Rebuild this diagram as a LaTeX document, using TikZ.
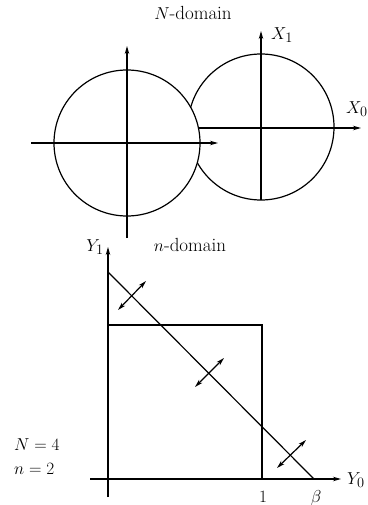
\documentclass[tikz,border=0pt]{standalone}
\usetikzlibrary{arrows.meta}
\begin{document}
\begin{tikzpicture}[x=1pt,y=-1pt,
  thinline/.style={line width=1.2pt},
  axis/.style={line width=1.2pt,-{Stealth[length=8pt,width=4.5pt]}},
  dbl/.style={line width=1.2pt,{Stealth[length=8pt,width=4.5pt]}-{Stealth[length=8pt,width=4.5pt]}},
  thick box/.style={line width=2.8pt},
  lbl/.style={inner sep=0pt,font=\fontsize{19}{22}\selectfont}]
\useasboundingbox (0,0) rectangle (367,505);
% top: N-domain
\node[lbl] (ntitle) at (193,13) {$N$-domain};
\node[circle,draw,thinline,minimum size=146pt,inner sep=0pt] (c2) at (261,127) {};
\node[circle,draw,thinline,fill=white,minimum size=146pt,inner sep=0pt] (c1) at (127,143) {};
\coordinate (l1) at (31,143); \coordinate (r1) at (218,143);
\coordinate (b1) at (127,238); \coordinate (t1) at (127,46);
\draw[axis] (l1) -- (r1);
\draw[axis] (b1) -- (t1);
\coordinate (l2) at (198,128); \coordinate (r2) at (361,128);
\coordinate (b2) at (261,200); \coordinate (t2) at (261,31);
\draw[axis] (l2) -- (r2);
\draw[axis] (b2) -- (t2);
\node[lbl] (x1) at (282,35) {$X_1$};
\node[lbl,anchor=west] (x0) at (346,109) {$X_0$};
% bottom: n-domain
\node[lbl] (ntitle2) at (190,245) {$n$-domain};
\coordinate (yl) at (90,479); \coordinate (yr) at (341,479);
\coordinate (yb) at (108,497); \coordinate (yt) at (108,247);
\draw[axis] (yl) -- (yr);
\draw[axis] (yb) -- (yt);
\node[lbl,anchor=west] (y0) at (347,480) {$Y_0$};
\node[lbl] (y1) at (95,247) {$Y_1$};
\draw[thick box] (108,325) rectangle (262,479);
\coordinate (d1) at (108,272); \coordinate (d2) at (314,479);
\draw[thinline] (d1) -- (d2);
\coordinate (a1) at (118,310); \coordinate (a2) at (146,281);
\coordinate (a3) at (195,387); \coordinate (a4) at (224,358);
\coordinate (a5) at (277,468); \coordinate (a6) at (306,440);
\draw[dbl] (a1) -- (a2);
\draw[dbl] (a3) -- (a4);
\draw[dbl] (a5) -- (a6);
\node[lbl] (one) at (263,497) {$1$};
\node[lbl] (beta) at (316,498) {$\beta$};
\node[lbl,anchor=west] (nn) at (14,445) {$N=4$};
\node[lbl,anchor=west] (nsmall) at (14,469) {$n=2$};
\end{tikzpicture}
\end{document}
